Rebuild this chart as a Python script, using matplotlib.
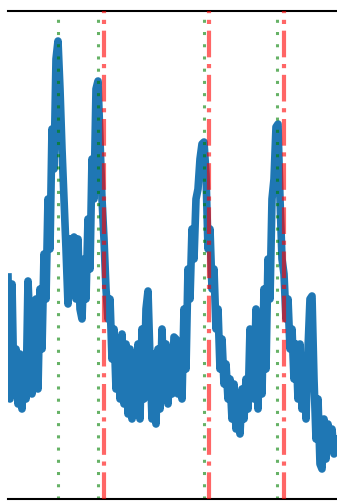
import numpy as np
import matplotlib
matplotlib.use("Agg")
import matplotlib.pyplot as plt

# sample positions and signal level
x = list(range(8, 338, 2))
depth = [278, 400, 285, 395, 350, 405, 355, 410, 360, 400,
         282, 330, 395, 380, 300, 390, 290, 350, 255, 300,
         200, 250, 130, 170, 60, 42, 90, 150, 200, 250,
         305, 240, 290, 238, 300, 240, 310, 320, 260, 300,
         220, 270, 160, 200, 90, 82, 140, 200, 240, 290,
         320, 300, 360, 330, 390, 340, 400, 335, 405, 345,
         415, 350, 420, 355, 410, 345, 420, 330, 400, 310,
         292, 360, 420, 355, 425, 350, 410, 330, 400, 345,
         405, 360, 395, 338, 340, 395, 350, 400, 310, 370,
         270, 300, 230, 260, 200, 190, 160, 145, 143, 175,
         250, 230, 290, 270, 330, 310, 370, 340, 385, 365,
         400, 380, 420, 385, 430, 395, 435, 390, 420, 380,
         410, 330, 360, 400, 310, 410, 320, 395, 290, 370,
         260, 300, 200, 180, 128, 125, 200, 260, 275, 320,
         300, 350, 330, 380, 345, 400, 345, 410, 360, 420,
         350, 300, 297, 380, 440, 400, 465, 470, 420, 460,
         425, 450, 430, 455, 440]
signal = 500 - np.array(depth)

peaks = [58, 98, 204, 277]
marks = [104, 209, 284]

fig = plt.figure(figsize=(3.37, 5.02), dpi=100)
ax = fig.add_axes([8 / 337, 2 / 502, 329 / 337, 488 / 502])

ax.plot(x, signal, color="#1f77b4", lw=5.5, zorder=1)
for p in peaks:
    ax.axvline(p, color="green", alpha=0.6, lw=2.2, ls=(0, (1, 3)), zorder=2)
for m in marks:
    ax.axvline(m, color="red", alpha=0.6, lw=3, ls="-.", zorder=3)

ax.set_xlim(8, 337)
ax.set_ylim(0, 488)
ax.set_xticks([])
ax.set_yticks([])
ax.spines["left"].set_visible(False)
ax.spines["right"].set_visible(False)
ax.spines["top"].set_linewidth(1.5)
ax.spines["bottom"].set_linewidth(1.5)

fig.savefig("out.png", dpi=100)
